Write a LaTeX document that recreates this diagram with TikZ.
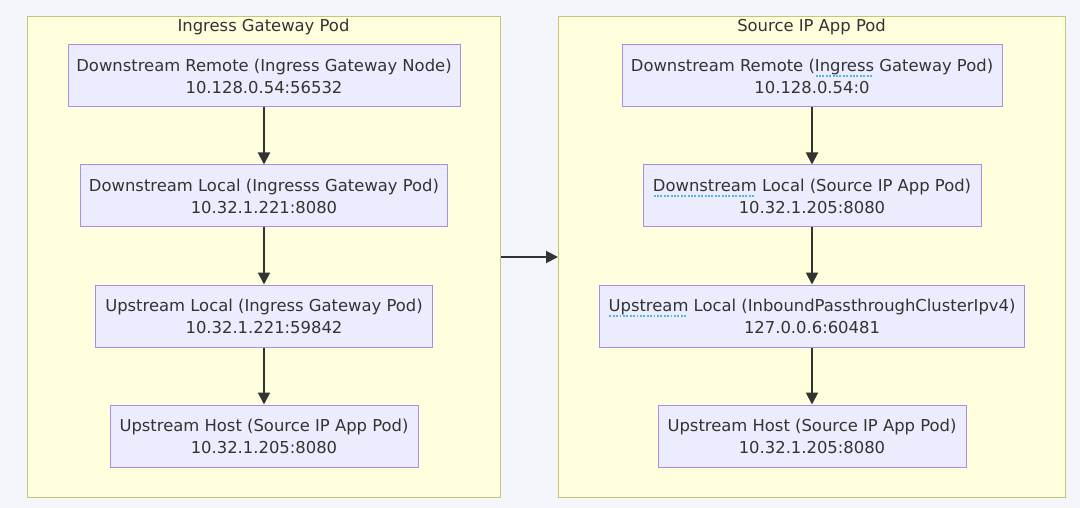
\documentclass[tikz,border=0pt]{standalone}
\usepackage{fontspec}
\setmainfont{DejaVu Sans}
\usetikzlibrary{arrows.meta}
\definecolor{bgc}{HTML}{F5F5FC}
\definecolor{clfill}{HTML}{FFFFDE}
\definecolor{cldraw}{HTML}{C4C47A}
\definecolor{ndfill}{HTML}{ECECFF}
\definecolor{nddraw}{HTML}{A98EE6}
\definecolor{txt}{HTML}{333333}
\definecolor{squigc}{HTML}{55B6E0}
\newcommand{\squig}[1]{\setbox0\hbox{#1}\rlap{\raisebox{-5.5pt}{\textcolor{squigc}{\leaders\hbox to 3.4pt{\hss\rule{1.9pt}{1.2pt}\hss}\hskip\wd0}}}#1}
\tikzset{
  cluster/.style={draw=cldraw, fill=clfill, line width=1pt, inner sep=0pt, anchor=north west},
  cltitle/.style={text=txt, font=\fontsize{16.4}{22}\selectfont, inner sep=0pt},
  box/.style={draw=nddraw, fill=ndfill, line width=1pt, text=txt, align=center,
    font=\fontsize{16.4}{22}\selectfont, minimum height=62pt, inner sep=0pt},
  flow/.style={draw=txt, line width=2pt, -{Triangle[length=12pt,width=12pt]}}
}
\begin{document}
\begin{tikzpicture}[x=1pt,y=-1pt]
\fill[bgc] (0,0) rectangle (1080,508);
\useasboundingbox (0,0) rectangle (1080,508);
% clusters
\node[cluster, minimum width=473pt, minimum height=481pt] (L) at (27,16) {};
\node[cluster, minimum width=507pt, minimum height=481pt] (R) at (558,16) {};
\node[cltitle] (Lt) at (263.5,27) {Ingress Gateway Pod};
\node[cltitle] (Rt) at (811.5,27) {Source IP App Pod};
% left nodes
\node[box, minimum width=392pt] (a1) at (264,76) {Downstream Remote (Ingress Gateway Node)\\10.128.0.54:56532};
\node[box, minimum width=367pt] (a2) at (264,196) {Downstream Local (Ingresss Gateway Pod)\\10.32.1.221:8080};
\node[box, minimum width=337pt] (a3) at (264,316) {Upstream Local (Ingress Gateway Pod)\\10.32.1.221:59842};
\node[box, minimum width=308pt] (a4) at (264,436) {Upstream Host (Source IP App Pod)\\10.32.1.205:8080};
% right nodes
\node[box, minimum width=380pt] (b1) at (812,76) {Downstream Remote (\squig{Ingress} Gateway Pod)\\10.128.0.54:0};
\node[box, minimum width=338pt] (b2) at (812,196) {\squig{Downstream} Local (Source IP App Pod)\\10.32.1.205:8080};
\node[box, minimum width=425pt] (b3) at (812,316) {\squig{Upstream} Local (InboundPassthroughClusterIpv4)\\127.0.0.6:60481};
\node[box, minimum width=308pt] (b4) at (812,436) {Upstream Host (Source IP App Pod)\\10.32.1.205:8080};
% arrows
\draw[flow] (a1) -- (a2);
\draw[flow] (a2) -- (a3);
\draw[flow] (a3) -- (a4);
\draw[flow] (b1) -- (b2);
\draw[flow] (b2) -- (b3);
\draw[flow] (b3) -- (b4);
\draw[flow] (L.east) -- (R.west);
\end{tikzpicture}
\end{document}
